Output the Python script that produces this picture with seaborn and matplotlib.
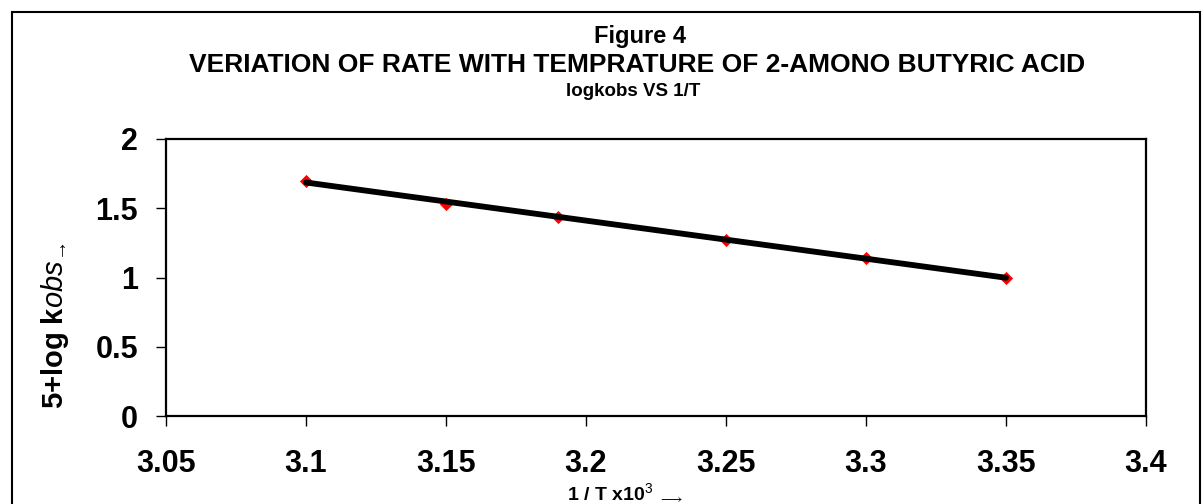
import numpy as np
import pandas as pd
import matplotlib
matplotlib.use("Agg")
import matplotlib.pyplot as plt
import seaborn as sns
from matplotlib.patches import Rectangle

# Data
inv_T = [3.10, 3.15, 3.19, 3.25, 3.30, 3.35]
log_kobs = [1.70, 1.53, 1.44, 1.27, 1.14, 1.00]
x_ticks = [3.05, 3.1, 3.15, 3.2, 3.25, 3.3, 3.35, 3.4]
x_tick_labels = ["3.05", "3.1", "3.15", "3.2", "3.25", "3.3", "3.35", "3.4"]
y_ticks = [0, 0.5, 1, 1.5, 2]
y_tick_labels = ["0", "0.5", "1", "1.5", "2"]

df = pd.DataFrame({"x": inv_T, "y": log_kobs})

sns.set_theme(style="white")
plt.rcParams["font.family"] = ["Liberation Sans", "DejaVu Sans"]
plt.rcParams["mathtext.fontset"] = "custom"
plt.rcParams["mathtext.rm"] = "Liberation Sans:bold"
plt.rcParams["mathtext.it"] = "Liberation Sans:italic"
plt.rcParams["mathtext.bf"] = "Liberation Sans:bold"
plt.rcParams["mathtext.sf"] = "Liberation Sans"
for k in ["text.color", "axes.labelcolor", "xtick.color", "ytick.color", "axes.edgecolor"]:
    plt.rcParams[k] = "black"

fig = plt.figure(figsize=(12.03, 5.04), dpi=100)
ax = fig.add_axes([166 / 1203, 1 - 416 / 504, (1146 - 166) / 1203, (416 - 139) / 504])

sns.scatterplot(data=df, x="x", y="y", ax=ax, marker="D", color="#ff0000",
                s=45, edgecolor="#ff0000", linewidth=0, zorder=2, legend=False)
sns.regplot(data=df, x="x", y="y", ax=ax, ci=None, scatter=False,
            line_kws=dict(color="black", lw=4.2, solid_capstyle="round", zorder=3))

ax.set_xlim(3.05, 3.4)
ax.set_ylim(0, 2)
ax.set_xticks(x_ticks)
ax.set_xticklabels(x_tick_labels)
ax.set_yticks(y_ticks)
ax.set_yticklabels(y_tick_labels)
for s in ax.spines.values():
    s.set_visible(True)
    s.set_color("black")
    s.set_linewidth(1.6)
ax.tick_params(axis="both", which="major", direction="out", length=7, width=1.0,
               color="black", labelcolor="black", labelsize=22, bottom=True, left=True)
ax.tick_params(axis="x", pad=17)
ax.tick_params(axis="y", pad=13)
for lab in ax.get_xticklabels() + ax.get_yticklabels():
    lab.set_fontweight("bold")

ax.set_xlabel("")
ax.set_ylabel("")

# Y label
fig.text(55 / 1203, 1 - 326 / 504, r"5+log k$\mathit{obs}_{\!\rightarrow}$",
         rotation=90, ha="center", va="center", fontsize=21, fontweight="bold")
# X label
fig.text(625 / 1203, 1 - 493 / 504, r"1 / T x10$^{\mathsf{3}}$ $_{\longrightarrow}$",
         ha="center", va="center", fontsize=14, fontweight="bold")

# Titles
fig.text(640 / 1203, 1 - 37 / 504, "Figure 4", ha="center", va="center",
         fontsize=17, fontweight="bold")
fig.text(637 / 1203, 1 - 65 / 504,
         "VERIATION OF RATE WITH TEMPRATURE OF 2-AMONO BUTYRIC ACID",
         ha="center", va="center", fontsize=19, fontweight="bold")
fig.text(633 / 1203, 1 - 91 / 504, "logkobs VS 1/T", ha="center", va="center",
         fontsize=13.5, fontweight="bold")

# Outer border
fig.patches.append(Rectangle((12 / 1203, -0.1), (1200 - 12) / 1203, 1.1 - 12 / 504,
                             transform=fig.transFigure, fill=False,
                             edgecolor="black", linewidth=1.5))

fig.savefig("out.png", dpi=100, facecolor="white")
